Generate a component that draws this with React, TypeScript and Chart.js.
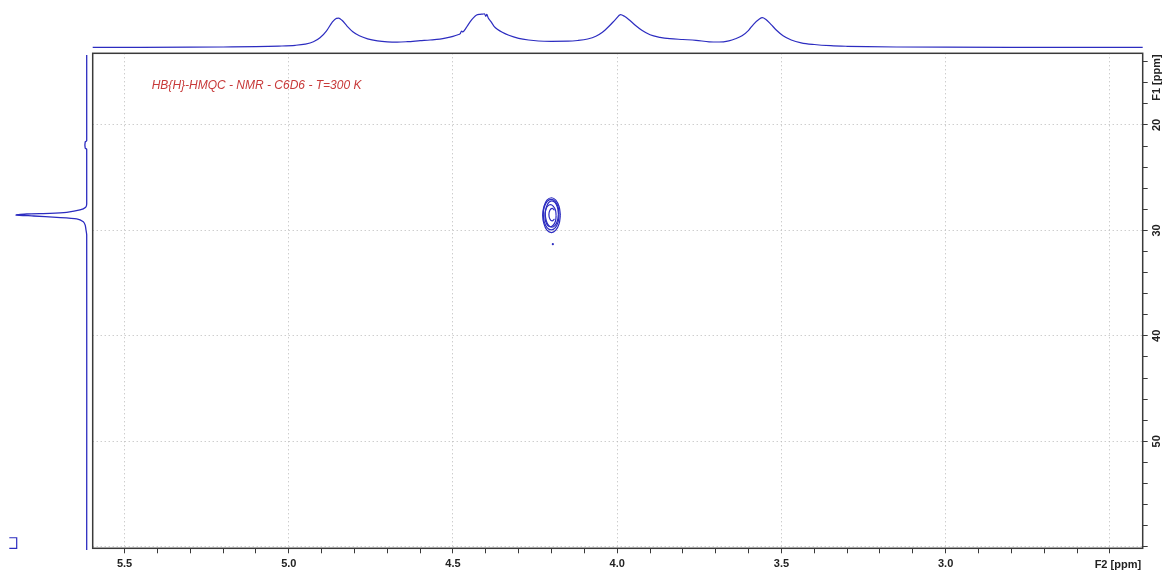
import { useEffect, useRef } from "react";
import { Chart, registerables } from "chart.js";

Chart.register(...registerables);

// ---- axis ranges (ppm) ----
const F2_RANGE = [2.4, 5.597];
const F1_RANGE = [13.2, 60.15];

// ---- ticks ----
const F2_TICKS = [5.5, 5.4, 5.3, 5.2, 5.1, 5.0, 4.9, 4.8, 4.7, 4.6, 4.5, 4.4, 4.3, 4.2, 4.1, 4.0, 3.9, 3.8, 3.7, 3.6, 3.5, 3.4, 3.3, 3.2, 3.1, 3.0, 2.9, 2.8, 2.7, 2.6, 2.5];
const F2_MAJOR = [5.5, 5.0, 4.5, 4.0, 3.5, 3.0, 2.5];
const F2_LABELS = ["5.5", "5.0", "4.5", "4.0", "3.5", "3.0", ""];
const F1_TICKS = [14, 16, 18, 20, 22, 24, 26, 28, 30, 32, 34, 36, 38, 40, 42, 44, 46, 48, 50, 52, 54, 56, 58, 60];
const F1_MAJOR = [20, 30, 40, 50, 60];
const F1_LABELS = ["20", "30", "40", "50", ""];

const TITLE = "HB{H}-HMQC - NMR - C6D6 - T=300 K";
const F2_TITLE = "F2 [ppm]";
const F1_TITLE = "F1 [ppm]";

// ---- top (F2) projection ----
const TOP_PPM = [5.597, 5.45, 5.3, 5.2, 5.1, 5.03, 4.98, 4.95, 4.925, 4.905, 4.885, 4.868, 4.855, 4.848, 4.838, 4.822, 4.805, 4.785, 4.76, 4.73, 4.7, 4.67, 4.64, 4.6, 4.57, 4.54, 4.52, 4.5, 4.485, 4.478, 4.474, 4.47, 4.462, 4.455, 4.448, 4.438, 4.428, 4.418, 4.41, 4.404, 4.4, 4.397, 4.393, 4.385, 4.375, 4.365, 4.35, 4.33, 4.3, 4.27, 4.24, 4.2, 4.15, 4.12, 4.09, 4.065, 4.045, 4.025, 4.005, 3.99, 3.978, 3.962, 3.945, 3.925, 3.9, 3.87, 3.84, 3.8, 3.76, 3.72, 3.69, 3.66, 3.64, 3.62, 3.6, 3.585, 3.568, 3.558, 3.548, 3.532, 3.515, 3.495, 3.47, 3.44, 3.4, 3.35, 3.3, 3.24, 3.15, 3.0, 2.8, 2.6, 2.4];
const TOP_INT = [0, 0, 0.1, 0.3, 0.6, 1.2, 2.0, 3.2, 5.5, 9.5, 16.5, 25, 29, 29.2, 27, 21, 15.5, 11.5, 8.5, 6.5, 5.5, 5.2, 5.6, 6.6, 7.3, 8.2, 9.4, 11, 12.6, 13.6, 16.2, 15.4, 18.5, 22, 25.5, 29.5, 32.3, 33, 33.2, 33.4, 31, 33, 29.5, 26, 21, 18, 15, 12, 9, 7.3, 6.3, 6, 6.1, 6.8, 8.3, 11, 15, 21, 28, 32.6, 31, 27, 22, 17, 12.5, 10, 8.6, 7.8, 7.0, 5.5, 5.3, 6.5, 8.5, 11.5, 17, 23, 28, 29.6, 28, 23, 17, 11.5, 7.3, 4.5, 2.8, 1.6, 1.0, 0.6, 0.3, 0.1, 0, 0, 0];

// ---- left (F1) projection ----
const LEFT_PPM = [13.35, 21.5, 21.6, 22.2, 22.3, 27.5, 27.8, 28.06, 28.28, 28.38, 28.44, 28.54, 28.63, 28.76, 28.9, 29.17, 29.5, 29.96, 30.4, 60.3];
const LEFT_INT = [0, 0, 1.5, 1.5, 0, 0, 1.0, 6.7, 20, 36.7, 60, 70.7, 53, 30, 10, 3.4, 1.5, 0.7, 0, 0];
const BRACKET_PPM = [59.15, 59.15, 60.15, 60.15];
const BRACKET_INT = [77.4, 70, 70, 77.4];

// ---- 2D contour rings (F2 ppm, F1 ppm) ----
const RING_1 = [[4.173, 28.55], [4.177, 29.38], [4.187, 29.98], [4.2, 30.2], [4.214, 29.98], [4.223, 29.38], [4.227, 28.55], [4.223, 27.73], [4.214, 27.12], [4.2, 26.9], [4.187, 27.12], [4.177, 27.73], [4.173, 28.55]];
const RING_2 = [[4.177, 28.5], [4.18, 29.22], [4.189, 29.76], [4.201, 29.95], [4.213, 29.76], [4.222, 29.22], [4.225, 28.5], [4.222, 27.78], [4.213, 27.24], [4.201, 27.05], [4.189, 27.24], [4.18, 27.78], [4.177, 28.5]];
const RING_3 = [[4.179, 28.45], [4.182, 29.08], [4.189, 29.53], [4.199, 29.7], [4.209, 29.53], [4.216, 29.08], [4.219, 28.45], [4.216, 27.82], [4.209, 27.37], [4.199, 27.2], [4.189, 27.37], [4.182, 27.82], [4.179, 28.45]];
const RING_4 = [[4.186, 28.6], [4.188, 29.13], [4.195, 29.51], [4.203, 29.65], [4.212, 29.51], [4.218, 29.13], [4.22, 28.6], [4.218, 28.07], [4.212, 27.69], [4.203, 27.55], [4.195, 27.69], [4.188, 28.07], [4.186, 28.6]];
const RING_5 = [[4.191, 28.92], [4.198, 29.1], [4.205, 28.92], [4.208, 28.5], [4.205, 28.08], [4.198, 27.9], [4.191, 28.08]];
const STRAY_POINT = [[4.196, 31.3]];

const BLUE = "#2c2cc0";
const W = 1166;
const H = 572;
const AREA = { left: 92.7, top: 53.3, right: 1142.7, bottom: 548.3 };

const near = (a: number, list: number[]) => list.some((v) => Math.abs(v - a) < 1e-6);

export default function App() {
  const mainRef = useRef<HTMLCanvasElement | null>(null);
  const topRef = useRef<HTMLCanvasElement | null>(null);
  const leftRef = useRef<HTMLCanvasElement | null>(null);

  useEffect(() => {
    const charts: Chart[] = [];
    const base = {
      animation: false as const,
      responsive: false,
      events: [] as any[],
      plugins: { legend: { display: false }, tooltip: { enabled: false }, title: { display: false } },
    };

    const rings = [RING_1, RING_2, RING_3, RING_4, RING_5].map((r) => ({
      data: r.map(([x, y]) => ({ x, y })),
      showLine: true,
      borderColor: BLUE,
      borderWidth: 1.2,
      pointRadius: 0,
      tension: 0.4,
      fill: false,
    }));

    const framePlugin = {
      id: "frame",
      afterDraw(chart: any) {
        const { ctx, chartArea: a, scales } = chart;
        ctx.save();
        ctx.strokeStyle = "#3a3a3a";
        ctx.lineWidth = 1.5;
        ctx.strokeRect(a.left, a.top, a.right - a.left, a.bottom - a.top);
        ctx.fillStyle = "#c83a3a";
        ctx.font = 'italic 12px "Liberation Sans", Arial, sans-serif';
        ctx.textAlign = "left";
        ctx.textBaseline = "alphabetic";
        ctx.fillText(TITLE, a.left + 59, a.top + 36);
        ctx.fillStyle = "#222";
        ctx.font = 'bold 11px "Liberation Sans", Arial, sans-serif';
        ctx.textAlign = "center";
        ctx.textBaseline = "alphabetic";
        ctx.fillText(F2_TITLE, scales.x.getPixelForValue(2.5) + 8, 568);
        ctx.translate(1157, scales.y.getPixelForValue(15.5));
        ctx.rotate(-Math.PI / 2);
        ctx.textBaseline = "middle";
        ctx.fillText(F1_TITLE, 0, 0);
        ctx.restore();
      },
    };

    if (mainRef.current) {
      charts.push(
        new Chart(mainRef.current, {
          type: "scatter",
          data: {
            datasets: [
              ...rings,
              {
                data: STRAY_POINT.map(([x, y]) => ({ x, y })),
                showLine: false,
                pointRadius: 1.1,
                pointBorderWidth: 0,
                backgroundColor: BLUE,
              },
            ] as any,
          },
          options: {
            ...base,
            layout: { padding: { left: AREA.left, top: AREA.top, right: 0, bottom: 0 } },
            scales: {
              x: {
                type: "linear",
                position: "bottom",
                min: F2_RANGE[0],
                max: F2_RANGE[1],
                reverse: true,
                afterBuildTicks: (s: any) => {
                  s.ticks = F2_TICKS.map((v) => ({ value: v, major: near(v, F2_MAJOR) }));
                },
                afterFit: (s: any) => {
                  s.height = H - AREA.bottom;
                },
                ticks: {
                  autoSkip: false,
                  maxRotation: 0,
                  minRotation: 0,
                  padding: 4,
                  color: "#222",
                  font: { family: '"Liberation Sans", Arial, sans-serif', size: 11, weight: "bold" },
                  callback: (v: any) => {
                    const i = F2_MAJOR.findIndex((m) => Math.abs(m - v) < 1e-6);
                    return i >= 0 ? F2_LABELS[i] : "";
                  },
                },
                grid: {
                  color: (c: any) => (c.tick && near(c.tick.value, F2_MAJOR) ? "#b8b8b8" : "rgba(0,0,0,0)"),
                  lineWidth: 1,
                  tickColor: "#3a3a3a",
                  tickWidth: 1,
                  tickLength: 5,
                },
                border: { display: false, dash: [1, 3] },
              },
              y: {
                type: "linear",
                position: "right",
                min: F1_RANGE[0],
                max: F1_RANGE[1],
                reverse: true,
                afterBuildTicks: (s: any) => {
                  s.ticks = F1_TICKS.map((v) => ({ value: v, major: near(v, F1_MAJOR) }));
                },
                afterFit: (s: any) => {
                  s.width = W - AREA.right;
                },
                ticks: {
                  autoSkip: false,
                  minRotation: 90,
                  maxRotation: 90,
                  crossAlign: "center",
                  padding: 3,
                  color: "#222",
                  font: { family: '"Liberation Sans", Arial, sans-serif', size: 11, weight: "bold" },
                  callback: (v: any) => {
                    const i = F1_MAJOR.findIndex((m) => Math.abs(m - v) < 1e-6);
                    return i >= 0 ? F1_LABELS[i] : "";
                  },
                },
                grid: {
                  color: (c: any) => (c.tick && near(c.tick.value, F1_MAJOR) ? "#b8b8b8" : "rgba(0,0,0,0)"),
                  lineWidth: 1,
                  tickColor: "#3a3a3a",
                  tickWidth: 1,
                  tickLength: 5,
                },
                border: { display: false, dash: [1, 3] },
              },
            },
          } as any,
          plugins: [framePlugin],
        })
      );
    }

    if (topRef.current) {
      charts.push(
        new Chart(topRef.current, {
          type: "scatter",
          data: {
            datasets: [
              {
                data: TOP_PPM.map((x, i) => ({ x, y: TOP_INT[i] })),
                showLine: true,
                borderColor: BLUE,
                borderWidth: 1.2,
                pointRadius: 0,
                cubicInterpolationMode: "monotone",
                clip: false,
              },
            ] as any,
          },
          options: {
            ...base,
            layout: { padding: { left: AREA.left, right: W - AREA.right, top: 10, bottom: 53 - 47.3 } },
            scales: {
              x: { type: "linear", min: F2_RANGE[0], max: F2_RANGE[1], reverse: true, display: false },
              y: { type: "linear", min: 0, max: 37.3, display: false },
            },
          } as any,
        })
      );
    }

    if (leftRef.current) {
      charts.push(
        new Chart(leftRef.current, {
          type: "scatter",
          data: {
            datasets: [
              {
                data: LEFT_PPM.map((y, i) => ({ x: LEFT_INT[i], y })),
                showLine: true,
                borderColor: BLUE,
                borderWidth: 1.3,
                pointRadius: 0,
                tension: 0.2,
                clip: false,
              },
              {
                data: BRACKET_PPM.map((y, i) => ({ x: BRACKET_INT[i], y })),
                showLine: true,
                borderColor: BLUE,
                borderWidth: 1.2,
                pointRadius: 0,
                tension: 0,
                clip: false,
              },
            ] as any,
          },
          options: {
            ...base,
            layout: { padding: { left: 5, right: 92 - 86.7, top: AREA.top, bottom: H - AREA.bottom } },
            scales: {
              x: { type: "linear", min: 0, max: 81.7, reverse: true, display: false },
              y: { type: "linear", min: F1_RANGE[0], max: F1_RANGE[1], reverse: true, display: false },
            },
          } as any,
        })
      );
    }

    return () => charts.forEach((c) => c.destroy());
  }, []);

  return (
    <div style={{ position: "absolute", left: 0, top: 0, width: W, height: H, background: "#fff" }}>
      <canvas ref={mainRef} width={W} height={H} style={{ position: "absolute", left: 0, top: 0 }} />
      <canvas ref={topRef} width={W} height={53} style={{ position: "absolute", left: 0, top: 0 }} />
      <canvas ref={leftRef} width={92} height={H} style={{ position: "absolute", left: 0, top: 0 }} />
    </div>
  );
}
